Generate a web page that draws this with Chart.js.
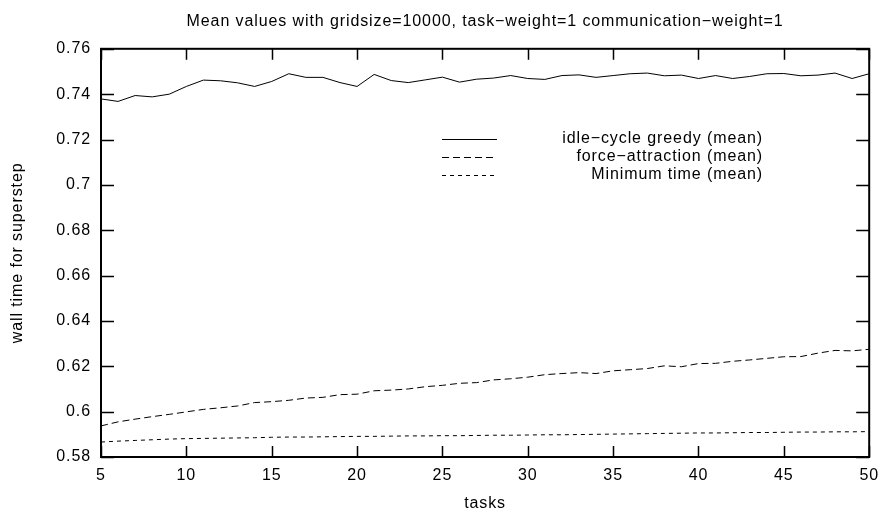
<!DOCTYPE html>
<html>
<head>
<meta charset="utf-8">
<title>Mean values with gridsize=10000</title>
<script src="https://cdn.jsdelivr.net/npm/chart.js@4/dist/chart.umd.min.js"></script>
<style>
    html, body { margin: 0; padding: 0; background: #fff; }
    #wrap { position: relative; width: 888px; height: 513px; }
</style>
</head>
<body>
<div id="wrap"><canvas id="chart"></canvas></div>
<script>
// number of tasks (x axis)
const tasks = [5, 6, 7, 8, 9, 10, 11, 12, 13, 14, 15, 16, 17, 18, 19, 20, 21, 22, 23, 24, 25, 26, 27,
    28, 29, 30, 31, 32, 33, 34, 35, 36, 37, 38, 39, 40, 41, 42, 43, 44, 45, 46, 47, 48, 49, 50];

const idleCycleGreedy = [0.7379, 0.7368, 0.7394, 0.7388, 0.7400, 0.7434, 0.7462, 0.7459, 0.7450, 0.7434,
    0.7456, 0.7490, 0.7474, 0.7474, 0.7451, 0.7434, 0.7487, 0.7460, 0.7451, 0.7463, 0.7475, 0.7453, 0.7466,
    0.7471, 0.7482, 0.7469, 0.7465, 0.7482, 0.7485, 0.7474, 0.7482, 0.7490, 0.7493, 0.7481, 0.7484, 0.7469,
    0.7482, 0.7469, 0.7478, 0.7490, 0.7491, 0.7481, 0.7484, 0.7493, 0.7469, 0.7490];

const forceAttraction = [0.5937, 0.5955, 0.5967, 0.5978, 0.5988, 0.5999, 0.6010, 0.6017, 0.6025, 0.6040,
    0.6044, 0.6050, 0.6060, 0.6063, 0.6075, 0.6077, 0.6092, 0.6095, 0.6100, 0.6110, 0.6116, 0.6125, 0.6128,
    0.6140, 0.6145, 0.6152, 0.6163, 0.6168, 0.6172, 0.6168, 0.6180, 0.6185, 0.6190, 0.6202, 0.6198, 0.6212,
    0.6213, 0.6222, 0.6228, 0.6235, 0.6242, 0.6243, 0.6258, 0.6270, 0.6268, 0.6275];

const minimumTime = [0.5866, 0.5870, 0.5873, 0.5876, 0.5879, 0.5881, 0.5882, 0.5883, 0.5884, 0.5885,
    0.5887, 0.5888, 0.5888, 0.5889, 0.5890, 0.5891, 0.5891, 0.5892, 0.5893, 0.5893, 0.5894, 0.5894, 0.5895,
    0.5896, 0.5896, 0.5897, 0.5898, 0.5898, 0.5899, 0.5900, 0.5901, 0.5902, 0.5903, 0.5904, 0.5905, 0.5906,
    0.5906, 0.5907, 0.5908, 0.5908, 0.5909, 0.5910, 0.5910, 0.5911, 0.5911, 0.5912];

const xTicks = [5, 10, 15, 20, 25, 30, 35, 40, 45, 50];
const yTicks = [0.58, 0.6, 0.62, 0.64, 0.66, 0.68, 0.7, 0.72, 0.74, 0.76];

const FONT = '"Liberation Sans", Arial, Helvetica, sans-serif';
// the original is a stretched gnuplot export, so its text runs a bit wide
const LETTER_SPACING = '0.9px';

function points(ys) {
    return tasks.map((t, i) => ({ x: t, y: ys[i] }));
}

const spacingPlugin = {
    id: 'spacing',
    beforeLayout(chart) { chart.ctx.letterSpacing = LETTER_SPACING; },
    beforeDraw(chart) { chart.ctx.letterSpacing = LETTER_SPACING; },
};

// gnuplot style frame with inward ticks on all four sides
const framePlugin = {
    id: 'frame',
    afterDraw(chart) {
        const { ctx, chartArea: a, scales } = chart;
        ctx.save();
        ctx.strokeStyle = '#000';
        ctx.lineWidth = 1.5;
        ctx.beginPath();
        xTicks.forEach(v => {
            const px = Math.round(scales.x.getPixelForValue(v)) + 0.5;
            ctx.moveTo(px, a.bottom); ctx.lineTo(px, a.bottom - 11);
            ctx.moveTo(px, a.top); ctx.lineTo(px, a.top + 11);
        });
        yTicks.forEach(v => {
            const py = Math.round(scales.y.getPixelForValue(v)) + 0.5;
            ctx.moveTo(a.left, py); ctx.lineTo(a.left + 13, py);
            ctx.moveTo(a.right, py); ctx.lineTo(a.right - 13, py);
        });
        ctx.stroke();
        ctx.lineWidth = 2;
        ctx.strokeRect(a.left, a.top, a.right - a.left, a.bottom - a.top);
        ctx.restore();
    }
};

// legend drawn the gnuplot way: sample on the left, label right aligned
const keyPlugin = {
    id: 'gnuKey',
    afterDatasetsDraw(chart, args, opts) {
        const { ctx } = chart;
        ctx.save();
        ctx.letterSpacing = LETTER_SPACING;
        ctx.font = '16px ' + FONT;
        ctx.textAlign = 'right';
        ctx.textBaseline = 'middle';
        ctx.fillStyle = '#000';
        chart.data.datasets.forEach((ds, i) => {
            const y = Math.round(opts.top + i * opts.rowHeight);
            ctx.fillText(ds.label, opts.textRight, y);
            ctx.beginPath();
            ctx.setLineDash(ds.borderDash || []);
            ctx.strokeStyle = ds.borderColor;
            ctx.lineWidth = ds.borderWidth;
            ctx.moveTo(opts.sampleLeft, y + 0.5);
            ctx.lineTo(opts.sampleRight, y + 0.5);
            ctx.stroke();
        });
        ctx.restore();
    }
};

new Chart(document.getElementById('chart'), {
    type: 'line',
    data: {
        datasets: [
            {
                label: 'idle\u2212cycle greedy (mean)',
                data: points(idleCycleGreedy),
                borderColor: '#000',
                borderWidth: 1,
                borderDash: [],
            },
            {
                label: 'force\u2212attraction (mean)',
                data: points(forceAttraction),
                borderColor: '#000',
                borderWidth: 1,
                borderDash: [7, 4],
            },
            {
                label: 'Minimum time (mean)',
                data: points(minimumTime),
                borderColor: '#000',
                borderWidth: 1,
                borderDash: [4, 4],
            },
        ],
    },
    options: {
        responsive: true,
        maintainAspectRatio: false,
        animation: false,
        elements: {
            point: { radius: 0 },
            line: { tension: 0 },
        },
        layout: { padding: { left: 0, right: 14, top: 0, bottom: 0 } },
        plugins: {
            legend: { display: false },
            tooltip: { enabled: false },
            title: {
                display: true,
                fullSize: false,
                text: 'Mean values with gridsize=10000, task\u2212weight=1 communication\u2212weight=1',
                color: '#000',
                font: { family: FONT, size: 16, weight: 'normal', lineHeight: 1.2 },
                padding: { top: 12, bottom: 17.6 },
            },
            gnuKey: { top: 139, rowHeight: 18, textRight: 763, sampleLeft: 442, sampleRight: 497 },
        },
        scales: {
            x: {
                type: 'linear',
                min: 5,
                max: 50,
                afterFit: scale => { scale.height = 56; },
                afterBuildTicks: scale => { scale.ticks = xTicks.map(v => ({ value: v })); },
                grid: { display: false, drawTicks: false },
                border: { display: false },
                ticks: {
                    color: '#000',
                    padding: 9,
                    maxRotation: 0,
                    font: { family: FONT, size: 16 },
                },
                title: {
                    display: true,
                    text: 'tasks',
                    color: '#000',
                    font: { family: FONT, size: 16 },
                    padding: { top: 0, bottom: 0 },
                },
            },
            y: {
                min: 0.58,
                max: 0.76,
                afterFit: scale => { scale.width = 101; },
                afterBuildTicks: scale => { scale.ticks = yTicks.map(v => ({ value: v })); },
                grid: { display: false, drawTicks: false },
                border: { display: false },
                ticks: {
                    color: '#000',
                    padding: 10,
                    font: { family: FONT, size: 16 },
                    callback: v => String(Number(v.toFixed(2))),
                },
                title: {
                    display: true,
                    text: 'wall time for superstep',
                    color: '#000',
                    font: { family: FONT, size: 16 },
                    padding: { top: 8, bottom: 0 },
                },
            },
        },
    },
    plugins: [spacingPlugin, framePlugin, keyPlugin],
});
</script>
</body>
</html>
